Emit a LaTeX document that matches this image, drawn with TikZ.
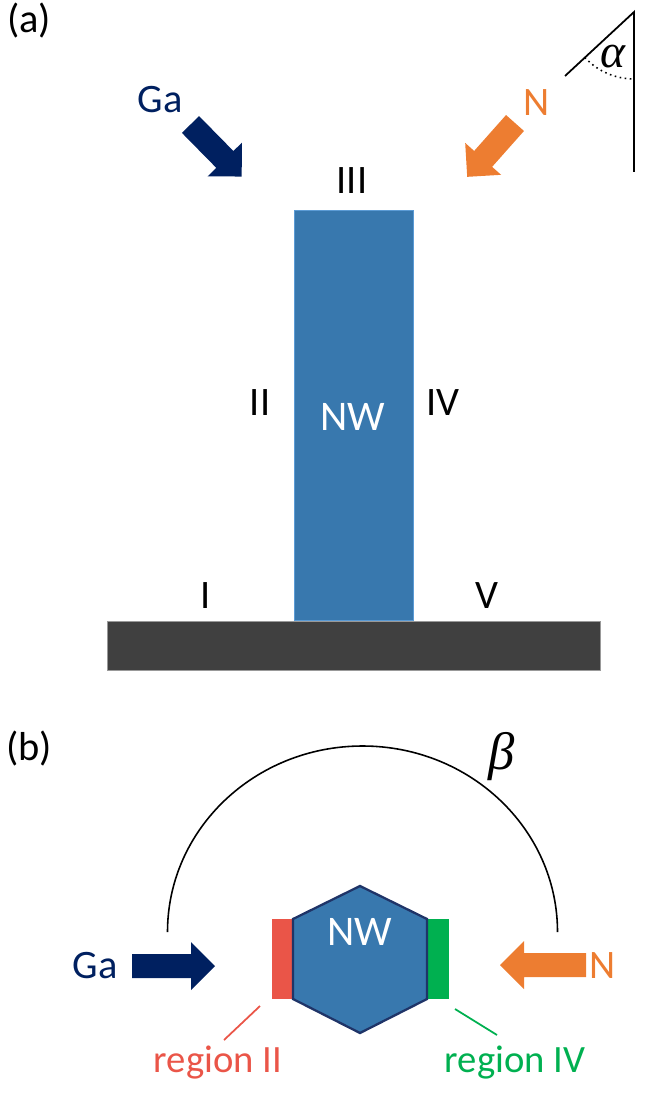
\documentclass[tikz,border=0pt]{standalone}
\usepackage{fontspec}
\setmainfont{Carlito}
\newfontfamily\grk{Liberation Serif}
\definecolor{nwblue}{HTML}{3878AE}
\definecolor{nwedge}{HTML}{5B9BD5}
\definecolor{navy}{HTML}{002060}
\definecolor{hexedge}{HTML}{1F3468}
\definecolor{orng}{HTML}{ED7D31}
\definecolor{redreg}{HTML}{EA5548}
\definecolor{greenreg}{HTML}{00B050}
\definecolor{subst}{HTML}{404040}
\newcommand\blockarrow[4]{\fill[#1,shift={#2},rotate=#3] (0,-12)--(#4-24,-12)--(#4-24,-24)--(#4,0)--(#4-24,24)--(#4-24,12)--(0,12)--cycle;}
\tikzset{
  lbl/.style={inner sep=0pt, font=\fontsize{23}{27}\selectfont},
  panel/.style={inner sep=0pt, font=\fontsize{23}{27}\selectfont},
  species/.style={inner sep=0pt, font=\fontsize{23}{27}\selectfont},
  reglbl/.style={inner sep=0pt, font=\fontsize{22}{26}\selectfont},
  nwtext/.style={inner sep=0pt, text=white, font=\fontsize{24}{28}\selectfont},
  greek/.style={inner sep=0pt, font=\grk\itshape\fontsize{27}{32}\selectfont},
}
\begin{document}
\begin{tikzpicture}[x=0.02cm,y=-0.02cm]
\useasboundingbox (0,0) rectangle (646,1097);
% ---------- (a) ----------
\node[panel] (pa) at (29,21) {(a)};
% substrate and nanowire
\node[draw=gray!80, line width=0.6pt, fill=subst, minimum width=493*0.02cm, minimum height=49*0.02cm, inner sep=0pt, anchor=north west] (sub) at (107,621) {};
\node[draw=nwedge, line width=0.6pt, fill=nwblue, minimum width=119*0.02cm, minimum height=410*0.02cm, inner sep=0pt, anchor=south west] (nw) at (294,621) {};
\node[nwtext] (nwlab) at (353,417) {NW};
\node[lbl] (l3) at (352,181) {III};
\node[lbl] (l2) at (260,403) {II};
\node[lbl] (l4) at (443,403) {IV};
\node[lbl] (l1) at (206,596) {I};
\node[lbl] (l5) at (487,596) {V};
% fluxes
\node[species, text=navy] (gaa) at (160,100) {Ga};
\node[species, text=orng] (na) at (537,103) {N};
\blockarrow{navy}{(190.5,124.5)}{-45.5}{73}
\blockarrow{orng}{(515,123)}{228.4}{72}
% angle indicator
\coordinate (apex) at (634,12);
\coordinate (vbot) at (634,172);
\coordinate (dend) at (565,76);
\draw[line width=1pt] (dend) -- (apex) -- (vbot);
\draw[line width=0.9pt, dotted] (584.8,57.5) arc[start angle=137.2, end angle=90, radius=67];
\node[greek] (alpha) at (613,57) {α};
% ---------- (b) ----------
\node[panel] (pb) at (29,749) {(b)};
\draw[line width=0.9pt] (167.5,932) arc[start angle=180, end angle=360, x radius=195, y radius=186];
\node[greek, font=\grk\itshape\fontsize{30}{36}\selectfont] (beta) at (502,757) {β};
% side regions
\fill[redreg] (272,919) rectangle (293,999);
\fill[greenreg] (427,919) rectangle (449,999);
% hexagon
\draw[hexedge, line width=1.3pt, fill=nwblue] (360,886) -- (427,919) -- (427,999) -- (360,1033) -- (293,999) -- (293,919) -- cycle;
\node[nwtext] (nwb) at (360,932) {NW};
% arrows
\node[species, text=navy] (gab) at (95,966) {Ga};
\node[species, text=orng] (nb) at (603,966) {N};
\blockarrow{navy}{(132,966)}{0}{83}
\blockarrow{orng}{(586,965)}{180}{86}
% region labels
\node[reglbl, text=redreg] (r2) at (218,1063) {region II};
\node[reglbl, text=greenreg] (r4) at (515,1063) {region IV};
\coordinate (r2a) at (260,1006);
\coordinate (r2b) at (224,1040);
\coordinate (r4a) at (455,1009);
\coordinate (r4b) at (497,1035);
\draw[redreg, line width=1pt] (r2a) -- (r2b);
\draw[greenreg, line width=1pt] (r4a) -- (r4b);
\end{tikzpicture}
\end{document}
